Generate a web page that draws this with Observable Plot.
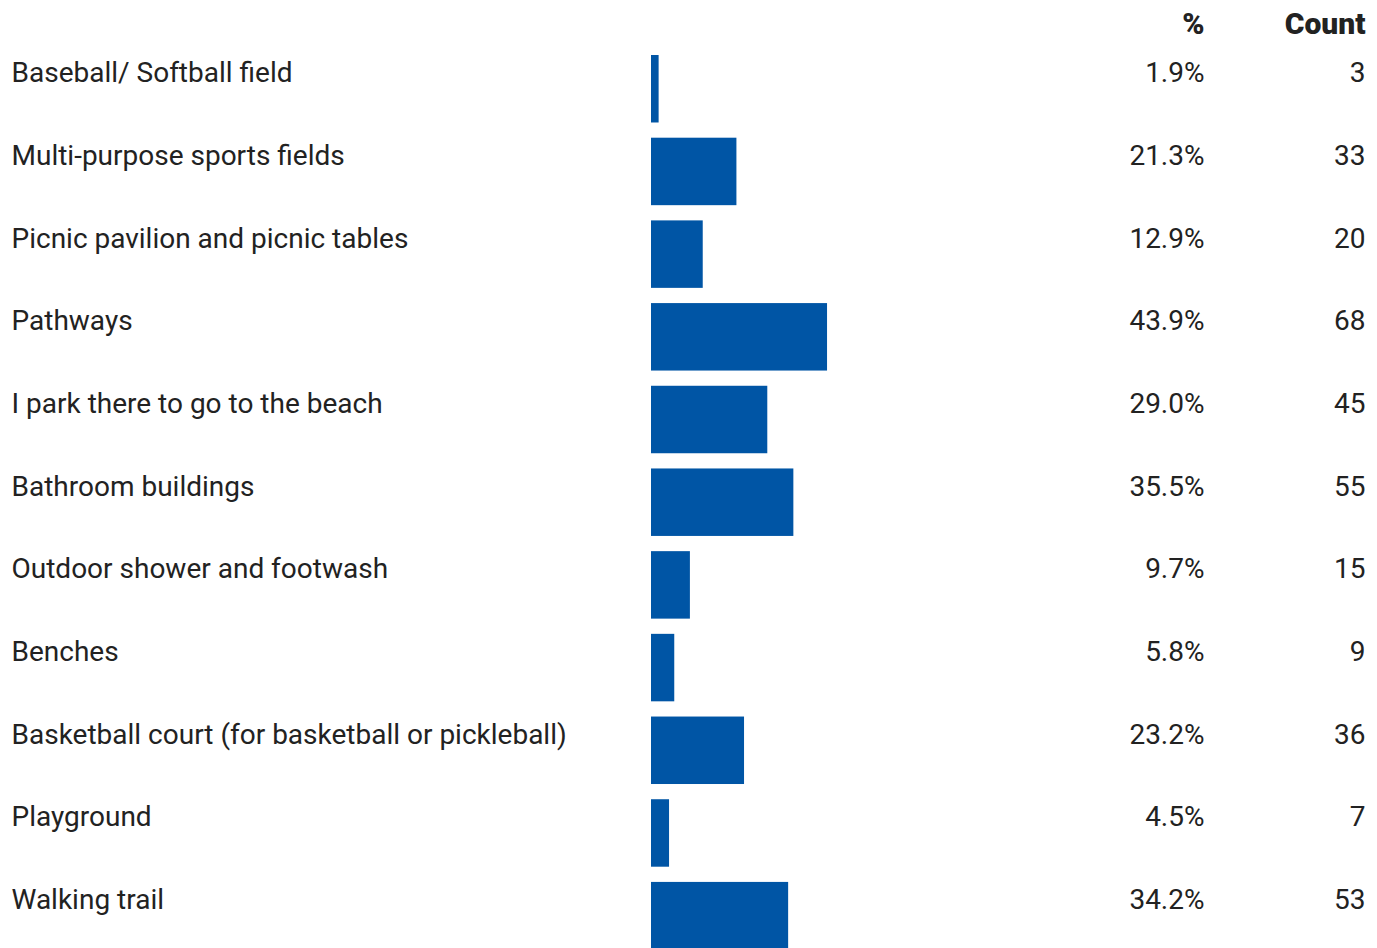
<!DOCTYPE html>
<html>
<head>
<meta charset="utf-8">
<script src="https://cdn.jsdelivr.net/npm/d3@7"></script>
<script src="https://cdn.jsdelivr.net/npm/@observablehq/plot@0.6"></script>
<style>
  html, body { margin: 0; padding: 0; background: #fff; overflow: hidden; }
  #chart svg { display: block; }
</style>
</head>
<body>
<div id="chart"></div>
<script>
const categories = [
  "Baseball/ Softball field",
  "Multi-purpose sports fields",
  "Picnic pavilion and picnic tables",
  "Pathways",
  "I park there to go to the beach",
  "Bathroom buildings",
  "Outdoor shower and footwash",
  "Benches",
  "Basketball court (for basketball or pickleball)",
  "Playground",
  "Walking trail"
];
const percents = [1.9, 21.3, 12.9, 43.9, 29.0, 35.5, 9.7, 5.8, 23.2, 4.5, 34.2];
const counts = [3, 33, 20, 68, 45, 55, 15, 9, 36, 7, 53];
const headers = ["%", "Count"];

const data = categories.map((c, i) => ({category: c, pct: percents[i], count: counts[i]}));

const W = 1377, H = 948;
const FONT = "Roboto, 'Noto Sans', sans-serif";
const FS = 28;
const ink = "#222222";
const frameRight = 651 + 401;

const chart = Plot.plot({
  width: W,
  height: H,
  marginLeft: 651,
  marginRight: W - frameRight,
  marginTop: 47.4,
  marginBottom: -9,
  style: {fontFamily: FONT, background: "#fff"},
  x: {domain: [0, 100], axis: null},
  y: {domain: categories, paddingInner: 0.184, paddingOuter: 0.092, round: false, axis: null},
  marks: [
    Plot.barX(data, {x: "pct", y: "category", fill: "#0055A5"}),
    Plot.text(data, {
      y: "category", text: "category", frameAnchor: "left", textAnchor: "start",
      dx: 11 - 651, dy: -16, fontSize: FS, fill: ink
    }),
    Plot.text(data, {
      y: "category", text: d => d.pct.toFixed(1) + "%", frameAnchor: "right", textAnchor: "end",
      dx: 1204 - frameRight, dy: -16, fontSize: FS, fill: ink
    }),
    Plot.text(data, {
      y: "category", text: d => String(d.count), frameAnchor: "right", textAnchor: "end",
      dx: 1365 - frameRight, dy: -16, fontSize: FS, fill: ink
    }),
    Plot.text([headers[0]], {
      text: d => d, frameAnchor: "top-right", textAnchor: "end", lineAnchor: "middle",
      dx: 1204 - frameRight, dy: -23.5, fontSize: 30, fontWeight: 900, fill: ink
    }),
    Plot.text([headers[1]], {
      text: d => d, frameAnchor: "top-right", textAnchor: "end", lineAnchor: "middle",
      dx: 1365 - frameRight, dy: -23.5, fontSize: 30, fontWeight: 900, fill: ink
    })
  ]
});
document.getElementById("chart").appendChild(chart);
</script>
</body>
</html>
